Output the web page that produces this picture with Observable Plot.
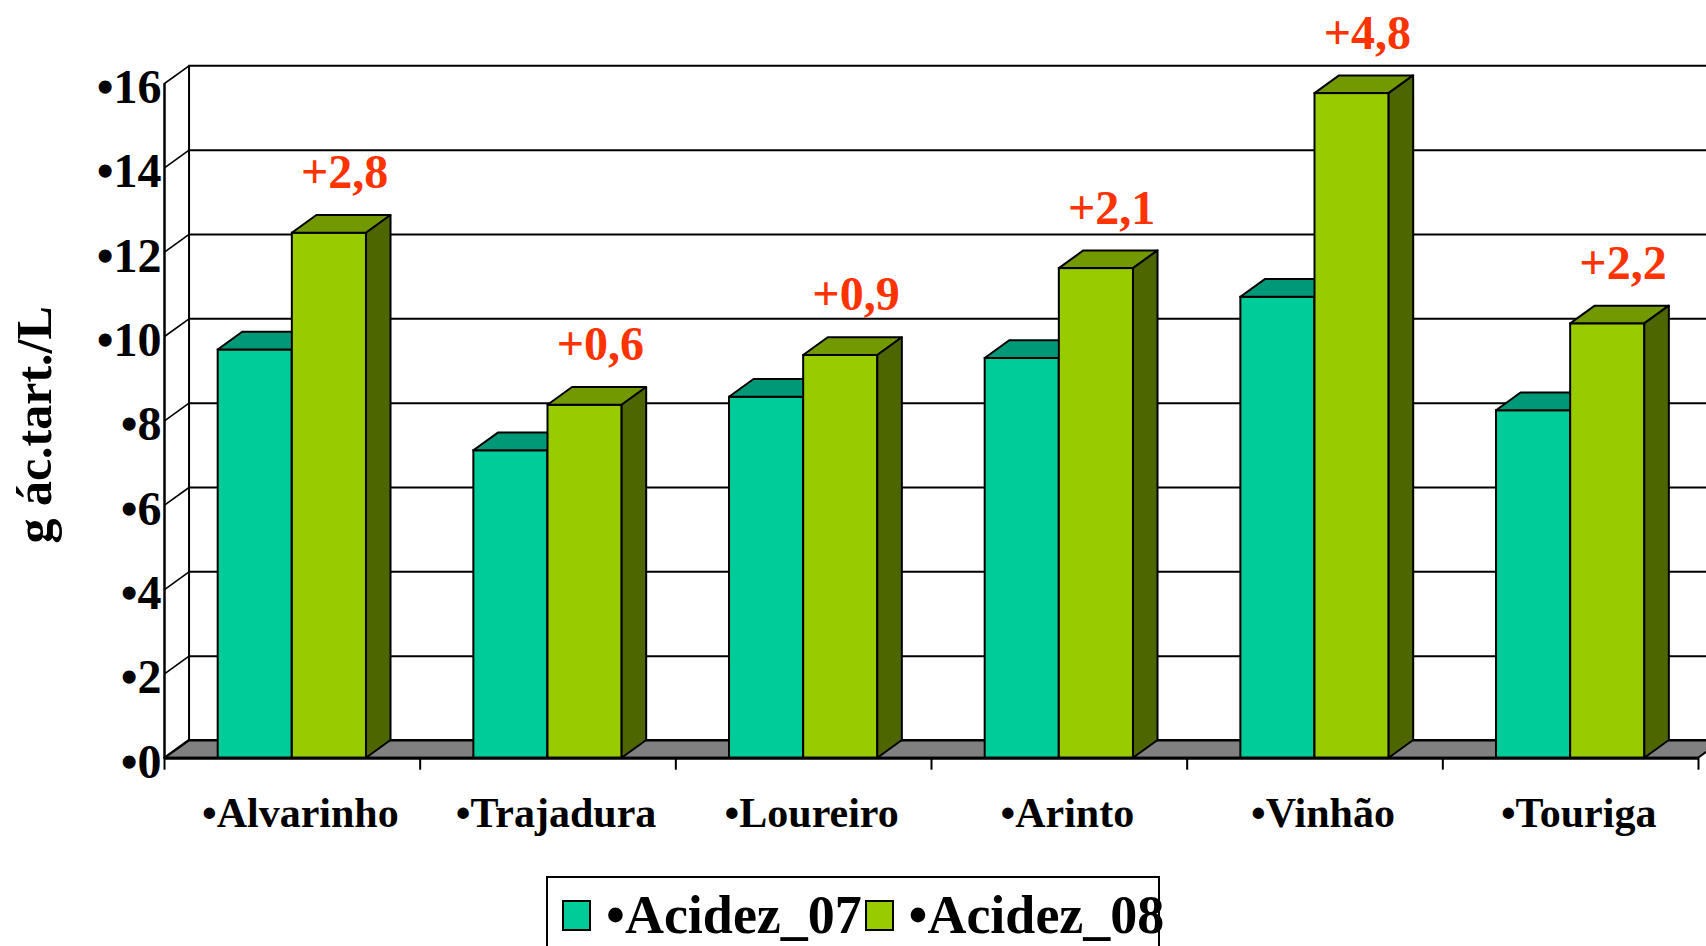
<!DOCTYPE html>
<html><head><meta charset="utf-8">
<script src="https://cdn.jsdelivr.net/npm/d3@7"></script>
<script src="https://cdn.jsdelivr.net/npm/@observablehq/plot@0.6"></script>
<style>
html,body{margin:0;padding:0;background:#fff;overflow:hidden;width:1706px;height:946px}
#wrap{position:relative;width:1706px;height:946px}
#wrap svg{display:block}
#legend{position:absolute;left:546px;top:876px;width:614px;height:120px;border:2px solid #000;box-sizing:border-box;background:#fff;font-family:"Liberation Serif";font-weight:bold;font-size:54px;white-space:nowrap;color:#000}
.sw{position:absolute;top:22px;width:29px;height:31px;border:2px solid #000;box-sizing:border-box}
.lt{position:absolute;top:10px;line-height:54px}
</style></head><body><div id="wrap"></div>
<script>
// ---- data ----
const categories = ["Alvarinho", "Trajadura", "Loureiro", "Arinto", "Vinhão", "Touriga"];
const acidez07 = [9.68, 7.29, 8.56, 9.48, 10.93, 8.24];
const acidez08 = [12.45, 8.37, 9.55, 11.61, 15.76, 10.30];
const differences = [2.8, 0.6, 0.9, 2.1, 4.8, 2.2];
const seriesNames = ["Acidez_07", "Acidez_08"];
const yTicks = [0, 2, 4, 6, 8, 10, 12, 14, 16];
const yTitle = "g ác.tart./L";

// ---- styling / 3D geometry (data units) ----
const colors07 = {front: "#00CC99", top: "#009977", side: "#006B4F"};
const colors08 = {front: "#99CC00", top: "#739900", side: "#4D6600"};
const labelColor = "#FF3300";
const ddx = 0.096, ddy = 0.42, barPad = 0.21, barW = 0.29;
const n = categories.length;
const yMax = d3.max(yTicks);

const rows = (vals, s) => categories.map((c, i) => ({
  id: c + s, cat: c, i, v: vals[i],
  x1: i + barPad + s * barW, x2: i + barPad + (s + 1) * barW
}));
const rows07 = rows(acidez07, 0);
const rows08 = rows(acidez08, 1);

const topFace = rs => rs.flatMap(r => [
  {id: r.id, y: r.v, x1: r.x1, x2: r.x2},
  {id: r.id, y: r.v + ddy, x1: r.x1 + ddx, x2: r.x2 + ddx}
]);
const sideFace = rs => rs.flatMap(r => [
  {id: r.id, x: r.x2, y1: 0, y2: r.v},
  {id: r.id, x: r.x2 + ddx, y1: ddy, y2: r.v + ddy}
]);
const barMarks = (rs, c) => [
  Plot.rect(rs, {x1: "x1", x2: "x2", y1: 0, y2: "v", fill: c.front, stroke: "#000", strokeWidth: 2}),
  Plot.areaX(topFace(rs), {y: "y", x1: "x1", x2: "x2", z: "id", fill: c.top, stroke: "#000", strokeWidth: 2}),
  Plot.areaY(sideFace(rs), {x: "x", y1: "y1", y2: "y2", z: "id", fill: c.side, stroke: "#000", strokeWidth: 2})
];
const fmt = d => "+" + d.toFixed(1).replace(".", ",");
const boundaries = d3.range(n + 1);

const chart = Plot.plot({
  width: 1706, height: 946,
  marginLeft: 164, marginRight: 8, marginTop: 83, marginBottom: 188.3,
  x: {domain: [0, n], label: null},
  y: {domain: [0, yMax], label: null, axis: null},
  style: {fontFamily: "Liberation Serif", background: "white", overflow: "visible"},
  marks: [
    // floor
    Plot.areaX([{y: 0, x1: 0, x2: n}, {y: ddy, x1: ddx, x2: n + ddx}],
      {y: "y", x1: "x1", x2: "x2", fill: "#808080", stroke: "#000", strokeWidth: 2}),
    // back wall gridlines
    Plot.ruleY(yTicks, {y: d => d + ddy, x1: ddx, x2: n + ddx, stroke: "#000", strokeWidth: 2}),
    Plot.ruleX([ddx], {y1: ddy, y2: yMax + ddy, stroke: "#000", strokeWidth: 2}),
    // side wall diagonals
    Plot.link(yTicks, {x1: 0, x2: ddx, y1: d => d, y2: d => d + ddy, stroke: "#000", strokeWidth: 1.6}),
    // bars
    ...barMarks(rows07, colors07),
    ...barMarks(rows08, colors08),
    // front axes
    Plot.ruleX([0], {y1: 0, y2: yMax, stroke: "#000", strokeWidth: 2.5}),
    Plot.ruleY([0], {x1: 0, x2: n, stroke: "#000", strokeWidth: 3}),
    Plot.axisX({ticks: boundaries, tickSize: 12, tickFormat: () => "", strokeWidth: 2}),
    // labels
    Plot.text(yTicks, {x: 0, y: d => d, text: d => "•" + d, textAnchor: "end", dx: -3, dy: 4,
      fontSize: 48, fontWeight: "bold", fill: "#000"}),
    Plot.text(categories, {x: (d, i) => i + 0.5, y: 0, text: d => "•" + d, dx: 8, dy: 69,
      lineAnchor: "bottom", fontSize: 42, fontWeight: "bold", fill: "#000"}),
    Plot.text(rows08, {x: r => r.x1 + barW / 2 + ddx / 2, y: "v", text: (r, i) => fmt(differences[i]),
      dx: 3, dy: -45, lineAnchor: "bottom", fontSize: 48, fontWeight: "bold", fill: labelColor}),
    Plot.text([yTitle], {frameAnchor: "left", text: d => d, rotate: -90, dx: -114, dy: 4,
      textAnchor: "middle", lineAnchor: "bottom", fontSize: 50, fontWeight: "bold", fill: "#000"})
  ]
});
const wrap = document.getElementById("wrap");
wrap.appendChild(chart);

// legend
const legend = document.createElement("div");
legend.id = "legend";
const swLeft = [14, 317], txtLeft = [58, 360.5];
[colors07, colors08].forEach((c, k) => {
  const sw = document.createElement("span");
  sw.className = "sw"; sw.style.left = swLeft[k] + "px"; sw.style.background = c.front;
  const t = document.createElement("span");
  t.className = "lt"; t.style.left = txtLeft[k] + "px"; t.textContent = "•" + seriesNames[k];
  legend.appendChild(sw); legend.appendChild(t);
});
wrap.appendChild(legend);
</script>
</body></html>
